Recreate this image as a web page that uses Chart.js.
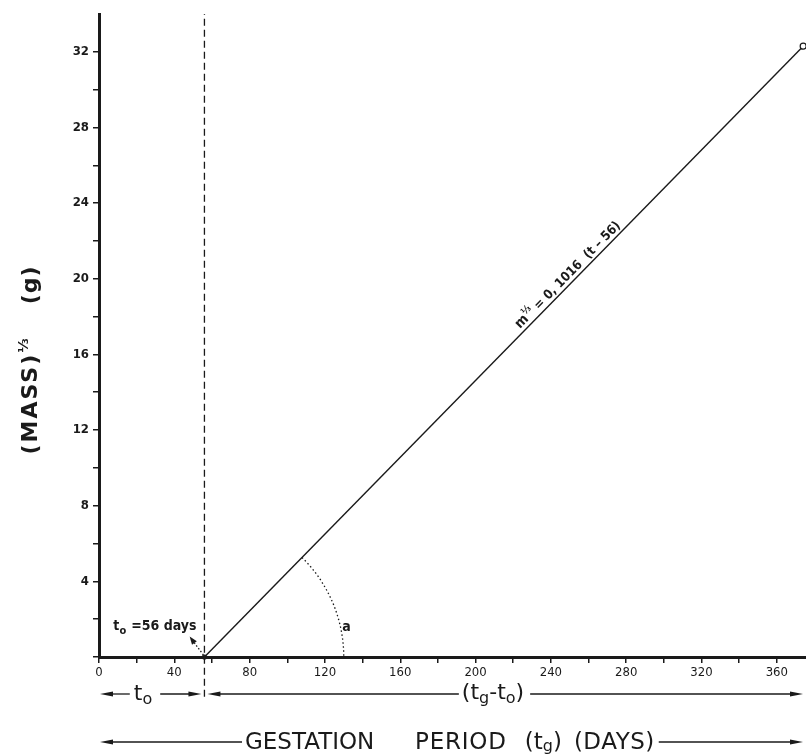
<!DOCTYPE html>
<html lang="en">
<head>
<meta charset="UTF-8">
<title>Gestation period</title>
<script src="https://cdn.jsdelivr.net/npm/chart.js"></script>
<style>
  html, body { margin: 0; padding: 0; background: #fff; }
  #wrap { width: 806px; height: 754px; }
</style>
</head>
<body>
<div id="wrap"><canvas id="chart" width="806" height="754"></canvas></div>
<script>
// growth line m^(1/3) = 0.1016 (t - 56)
const days = [56, 374];
const cubeRootMass = [0, 32.3];
const onset = 56;                 // t_o
const guideRange = [-2.1, 34];    // dashed guide at t_o, runs below the axis
const angleMarkDay = 130;         // arc "a" meets the x axis here
const labelDay = 252;             // where the equation label sits on the line
const xMax = 375.5, yMax = 34;
const xTicks = [0, 20, 40, 60, 80, 100, 120, 140, 160, 180, 200, 220, 240, 260, 280, 300, 320, 340, 360];
const xLabels = [0, 40, 80, 120, 160, 200, 240, 280, 320, 360];
const yTicks = [0, 2, 4, 6, 8, 10, 12, 14, 16, 18, 20, 22, 24, 26, 28, 30, 32];
const yLabels = [4, 8, 12, 16, 20, 24, 28, 32];

const ink = '#1a1a1a';
const cond = '"DejaVu Sans Condensed", "DejaVu Sans", sans-serif';
const wide = '"DejaVu Sans", sans-serif';

// parts: [text, font, dy, letterSpacing] or [null, gapPx]
function rich(ctx, parts, x, y, align) {
  const widthOf = p => {
    if (p[0] === null) return p[1];
    ctx.font = p[1];
    ctx.letterSpacing = (p[3] || 0) + 'px';
    return ctx.measureText(p[0]).width;
  };
  let w = 0;
  parts.forEach(p => { w += widthOf(p); });
  let cx = align === 'center' ? x - w / 2 : (align === 'right' ? x - w : x);
  const start = cx;
  parts.forEach(p => {
    const pw = widthOf(p);
    if (p[0] !== null) ctx.fillText(p[0], cx, y + (p[2] || 0));
    cx += pw;
  });
  ctx.letterSpacing = '0px';
  return [start, cx];
}

function arrow(ctx, from, to, y) {
  const dir = Math.sign(to - from);
  ctx.setLineDash([]);
  ctx.lineWidth = 1.3;
  ctx.beginPath(); ctx.moveTo(from, y); ctx.lineTo(to - dir * 8, y); ctx.stroke();
  ctx.beginPath();
  ctx.moveTo(to, y);
  ctx.lineTo(to - dir * 13, y - 2.6);
  ctx.lineTo(to - dir * 13, y + 2.6);
  ctx.closePath(); ctx.fill();
}

const extras = {
  id: 'extras',
  afterDraw(chart) {
    const { ctx, scales: { x, y } } = chart;
    const x0 = x.getPixelForValue(onset), y0 = y.getPixelForValue(0);
    const x1 = x.getPixelForValue(days[1]), y1 = y.getPixelForValue(cubeRootMass[1]);
    const ang = Math.atan2(y1 - y0, x1 - x0);
    ctx.save();
    ctx.fillStyle = ink; ctx.strokeStyle = ink;
    ctx.textBaseline = 'alphabetic';

    // dotted arc "a"
    const r = x.getPixelForValue(angleMarkDay) - x0;
    ctx.setLineDash([1.5, 2.5]); ctx.lineWidth = 1.3;
    ctx.beginPath(); ctx.arc(x0, y0, r, ang, 0); ctx.stroke();
    ctx.font = 'bold 14px ' + cond;
    ctx.fillText('a', x0 + r * 0.99, y0 - r * 0.19);

    // t_o = 56 days with dotted pointer
    rich(ctx, [
      ['t', 'bold 14px ' + cond],
      ['o', 'bold 11px ' + cond, 4],
      [null, 5],
      ['=56 days', 'bold 14px ' + cond]
    ], x0 - 8, y0 - 27, 'right');
    ctx.setLineDash([1.5, 2]);
    ctx.beginPath(); ctx.moveTo(x0 - 1, y0 - 2); ctx.lineTo(x0 - 10, y0 - 14); ctx.stroke();
    ctx.setLineDash([]);
    ctx.save();
    ctx.translate(x0 - 10, y0 - 14);
    ctx.rotate(Math.atan2(-12, -9));
    ctx.beginPath(); ctx.moveTo(8, 0); ctx.lineTo(0, -3); ctx.lineTo(0, 3); ctx.closePath(); ctx.fill();
    ctx.restore();

    // equation label along the line
    const lx = x.getPixelForValue(labelDay);
    const ly = y.getPixelForValue(0.1016 * (labelDay - onset));
    ctx.save();
    ctx.translate(lx, ly);
    ctx.rotate(ang);
    rich(ctx, [
      ['m', 'bold 14px ' + cond],
      ['⅓', 'bold 10px ' + cond, -6],
      [' = 0, 1016  (t – 56)', 'bold 13px ' + cond]
    ], 0, -4, 'center');
    ctx.restore();

    // y axis title
    ctx.save();
    ctx.translate(37, 360);
    ctx.rotate(-Math.PI / 2);
    rich(ctx, [
      ['(MASS)', 'bold 22px ' + wide, 0, 2],
      ['⅓', 'bold 14px ' + wide, -9],
      [null, 34],
      ['(g)', 'bold 22px ' + wide, 0, 1]
    ], 0, 0, 'center');
    ctx.restore();

    // row 1: t_o and (t_g - t_o) spans
    const r1 = 694;
    let s = rich(ctx, [
      ['t', '22px ' + wide, 6],
      ['o', '16px ' + wide, 10]
    ], 143, r1, 'center');
    arrow(ctx, s[0] - 4, x.left + 1, r1);
    arrow(ctx, s[1] + 8, x0 - 3, r1);
    s = rich(ctx, [
      ['(t', '22px ' + wide, 5],
      ['g', '16px ' + wide, 9],
      ['-t', '22px ' + wide, 5],
      ['o', '16px ' + wide, 9],
      [')', '22px ' + wide, 5]
    ], 493, r1, 'center');
    arrow(ctx, s[0] - 3, x0 + 3, r1);
    arrow(ctx, s[1] + 6, x.right - 3, r1);

    // row 2: axis title
    const r2 = 742;
    s = rich(ctx, [['GESTATION', '23px ' + wide, 7]], 245, r2, 'left');
    arrow(ctx, s[0] - 3, x.left + 1, r2);
    s = rich(ctx, [
      ['PERIOD', '23px ' + wide, 7, 0.8],
      [null, 18],
      ['(t', '23px ' + wide, 7],
      ['g', '16px ' + wide, 9],
      [')', '23px ' + wide, 7],
      [null, 12],
      ['(DAYS)', '23px ' + wide, 7, 0.5]
    ], 415, r2, 'left');
    arrow(ctx, s[1] + 4, x.right - 3, r2);

    ctx.restore();
  }
};

new Chart(document.getElementById('chart'), {
  type: 'scatter',
  data: {
    datasets: [
      {
        data: days.map((d, i) => ({ x: d, y: cubeRootMass[i] })),
        showLine: true,
        borderColor: ink,
        borderWidth: 1.4,
        pointRadius: [2, 3],
        pointBackgroundColor: [ink, '#fff'],
        pointBorderColor: ink,
        pointBorderWidth: 1.2,
        clip: false
      },
      {
        data: guideRange.map(v => ({ x: onset, y: v })),
        showLine: true,
        borderColor: ink,
        borderWidth: 1.3,
        borderDash: [7, 4],
        pointRadius: 0,
        clip: false
      }
    ]
  },
  options: {
    responsive: false,
    animation: false,
    layout: { autoPadding: false, padding: { top: 14, right: 0, bottom: 0, left: 0 } },
    plugins: { legend: { display: false }, tooltip: { enabled: false } },
    scales: {
      x: {
        type: 'linear', min: 0, max: xMax,
        afterFit(s) { s.height = 97; s.paddingRight = 0; },
        afterBuildTicks(s) { s.ticks = xTicks.map(v => ({ value: v })); },
        border: { display: true, color: ink, width: 3 },
        grid: { drawOnChartArea: false, drawTicks: true, tickLength: 6, color: ink, lineWidth: 1.5 },
        ticks: {
          padding: 2, color: ink, maxRotation: 0, autoSkip: false,
          font: { family: cond, size: 13 },
          callback: v => (xLabels.includes(v) ? v : '')
        }
      },
      y: {
        type: 'linear', min: 0, max: yMax,
        afterFit(s) { s.width = 99; },
        afterBuildTicks(s) { s.ticks = yTicks.map(v => ({ value: v })); },
        border: { display: true, color: ink, width: 3 },
        grid: { drawOnChartArea: false, drawTicks: true, tickLength: 6, color: ink, lineWidth: 1.5 },
        ticks: {
          padding: 4, color: ink, autoSkip: false,
          font: { family: cond, size: 13, weight: 'bold' },
          callback: v => (yLabels.includes(v) ? v : '')
        }
      }
    }
  },
  plugins: [extras]
});
</script>
</body>
</html>
